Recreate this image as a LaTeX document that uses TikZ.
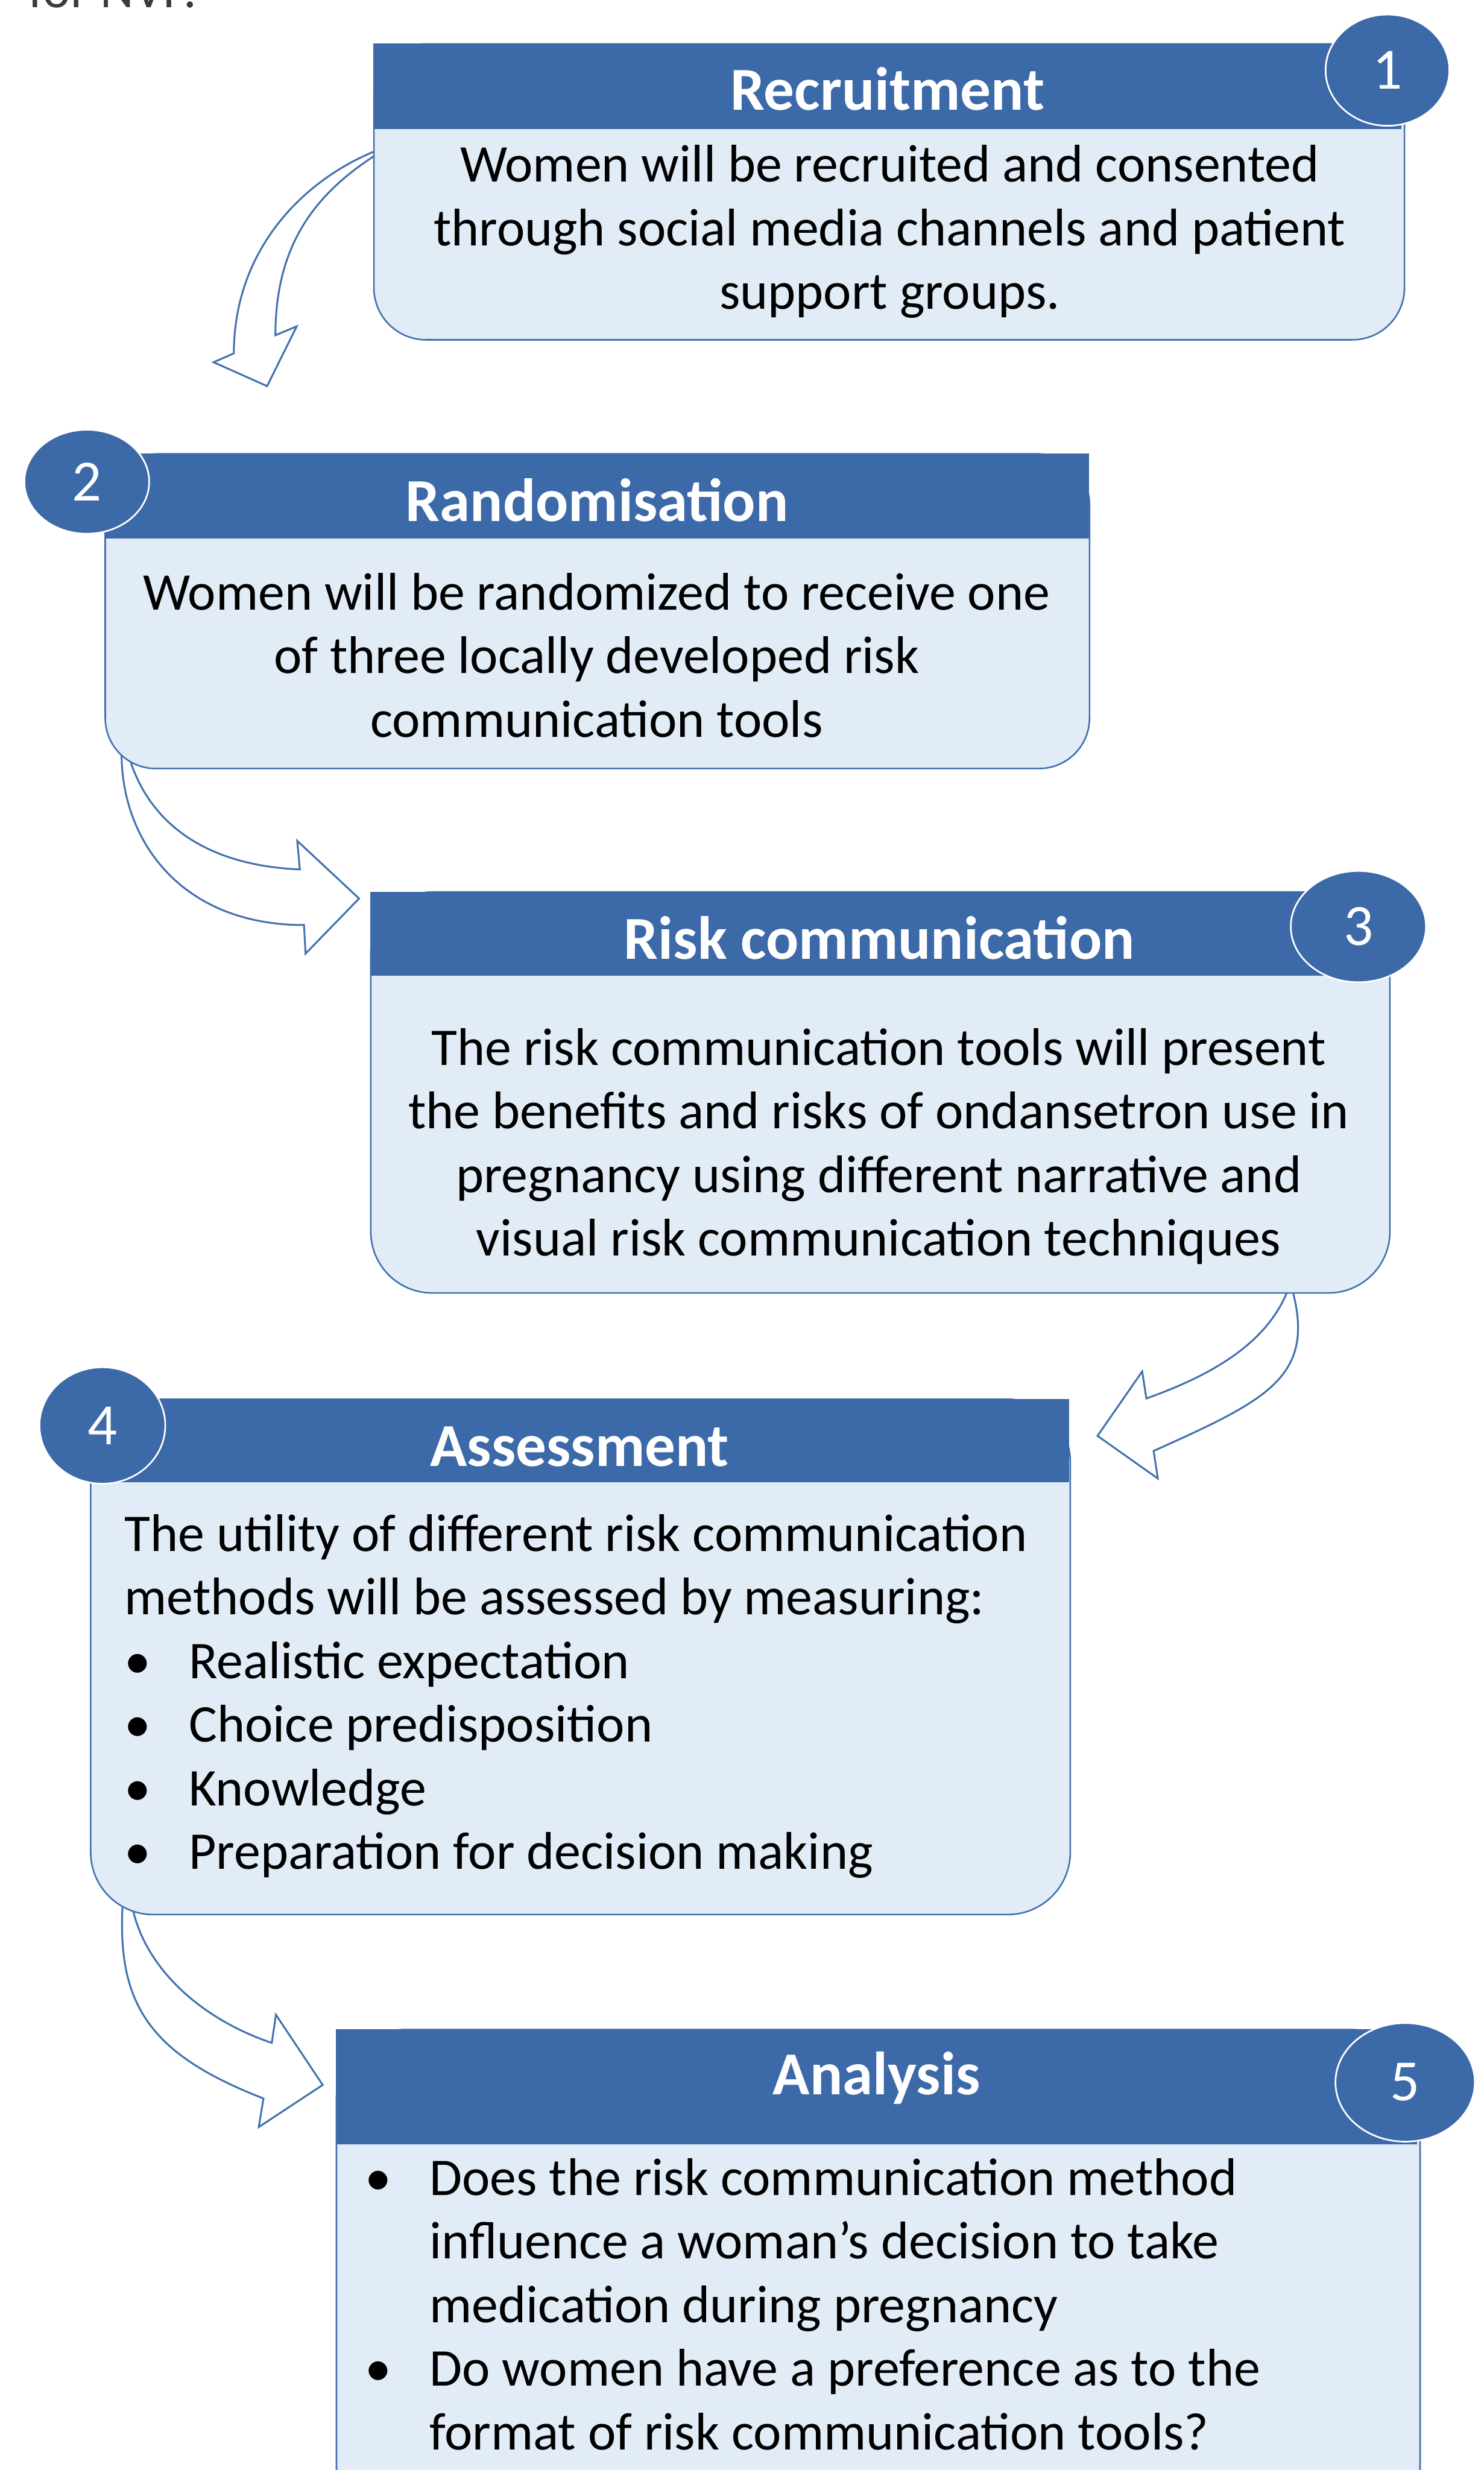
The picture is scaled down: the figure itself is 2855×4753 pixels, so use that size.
\documentclass[tikz,border=0pt]{standalone}
\usepackage{fontspec}
\setmainfont{Carlito}
\usetikzlibrary{shapes.geometric}

\definecolor{headblue}{RGB}{60,105,167}
\definecolor{paleblue}{RGB}{226,236,247}
\definecolor{edgeblue}{RGB}{66,113,176}
\definecolor{textgray}{RGB}{58,58,58}

\newcommand{\bitem}{\makebox[1.24cm][l]{\textbullet}\ignorespaces}
\newcommand{\bcont}{\hspace*{1.24cm}\ignorespaces}

\tikzset{
  stepbody/.style={draw=edgeblue, line width=0.85pt, fill=paleblue, anchor=north west, inner sep=0pt},
  stephead/.style={fill=headblue, anchor=north west, inner sep=0pt},
  steptitle/.style={text=white, inner sep=0pt, font=\fontsize{33.4}{40}\selectfont\bfseries},
  steptext/.style={inner sep=0pt, font=\fontsize{29}{34.8}\selectfont},
  stepnum/.style={ellipse, fill=headblue, draw=white, line width=0.9pt, inner sep=0pt, text=white, font=\fontsize{32}{38}\selectfont},
  flowarrow/.style={draw=edgeblue, line width=1pt, fill=white, line join=miter},
}

\begin{document}
\begin{tikzpicture}[x=0.01cm, y=-0.01cm]
\useasboundingbox (0,0) rectangle (2855,4753);
\clip (0,0) rectangle (2855,4753);

% last words of the sentence above
\node[anchor=base west, inner sep=0pt, text=textgray, font=\fontsize{28.4}{34.4}\selectfont] (tail) at (54,15) {for NVP.};

% curved block arrows, drawn first so the boxes hide their tails
\draw[flowarrow] (734,286) .. controls (585,342) and (450,480) .. (450,680) -- (411,697) -- (514,743) -- (571,628) -- (530,645) .. controls (530,465) and (612,367) .. (733,292) -- cycle;
\draw[flowarrow] (233,1440) -- (234,1455) .. controls (236,1620) and (350,1780) .. (585,1780) -- (588,1835) -- (691,1729) -- (572,1618) -- (577,1673) .. controls (390,1665) and (290,1580) .. (252,1468) -- (247,1454) -- cycle;
\draw[flowarrow] (2486,2472) -- (2488,2486) .. controls (2530,2650) and (2438,2694) .. (2220,2792) -- (2228,2845) -- (2112,2763) -- (2198,2639) -- (2206,2691) .. controls (2347,2641) and (2439,2578) .. (2477,2486) -- (2483,2472) -- cycle;
\draw[flowarrow] (239,3634) -- (237,3648) .. controls (222,3850) and (280,3950) .. (507,4038) -- (498,4093) -- (621,4012) -- (531,3877) -- (523,3931) .. controls (380,3883) and (272,3779) .. (253,3660) -- (251,3646) -- cycle;

% step 1
\node[stepbody, rounded corners=1cm, minimum width=19.82cm, minimum height=5.69cm] (recbody) at (718,83) {};
\node[stephead, minimum width=19.77cm, minimum height=1.64cm] (rechead) at (718,83) {};
\node[steptitle, anchor=base] (rectitle) at (rechead.center |- 0,212) {Recruitment};
\node[steptext, align=center] (rectext) at (1712,446) {Women will be recruited and consented\\
  through social media channels and patient\\
  support groups.};
\node[stepnum, minimum width=2.38cm, minimum height=2.14cm] (recnum) at (2670,135) {1};

% step 2
\node[stepbody, rounded corners=0.97cm, minimum width=18.93cm, minimum height=6.05cm] (randbody) at (201,872) {};
\node[stephead, minimum width=18.93cm, minimum height=1.63cm] (randhead) at (201,872) {};
\node[steptitle, anchor=base] (randtitle) at (randhead.center |- 0,1003) {Randomisation};
\node[steptext, align=center] (randtext) at (1148,1261) {Women will be randomized to receive one\\
  of three locally developed risk\\
  communication tools};
\node[stepnum, minimum width=2.4cm, minimum height=2cm] (randnum) at (167,927) {2};

% step 3
\node[stepbody, rounded corners=1.18cm, minimum width=19.6cm, minimum height=7.71cm] (riskbody) at (712,1715) {};
\node[stephead, minimum width=19.58cm, minimum height=1.62cm] (riskhead) at (712,1715) {};
\node[steptitle, anchor=base] (risktitle) at (riskhead.center |- 0,1846) {Risk communication};
\node[steptext, align=center] (risktext) at (1691,2206) {The risk communication tools will present\\
  the benefits and risks of ondansetron use in\\
  pregnancy using different narrative and\\
  visual risk communication techniques};
\node[stepnum, minimum width=2.6cm, minimum height=2.14cm] (risknum) at (2614,1783) {3};

% step 4
\node[stepbody, rounded corners=1.2cm, minimum width=18.84cm, minimum height=9.91cm] (assbody) at (173,2691) {};
\node[stephead, minimum width=18.82cm, minimum height=1.61cm] (asshead) at (173,2691) {};
\node[steptitle, anchor=base] (asstitle) at (asshead.center |- 0,2822) {Assessment};
\node[steptext, align=left, anchor=west] (asstext) at (239,3264) {The utility of different risk communication\\
  methods will be assessed by measuring:\\
  \bitem Realistic expectation\\
  \bitem Choice predisposition\\
  \bitem Knowledge\\
  \bitem Preparation for decision making};
\node[stepnum, minimum width=2.42cm, minimum height=2.24cm] (assnum) at (197,2743) {4};

% step 5
\node[stepbody, rounded corners=1.3cm, minimum width=20.84cm, minimum height=10cm] (anabody) at (646,3904) {};
\node[stephead, minimum width=20.79cm, minimum height=2.21cm] (anahead) at (646,3904) {};
\node[steptitle, anchor=base] (anatitle) at (anahead.center |- 0,4031) {Analysis};
\node[steptext, align=left, anchor=west] (anatext) at (702,4434) {\bitem Does the risk communication method\\
  \bcont influence a woman’s decision to take\\
  \bcont medication during pregnancy\\
  \bitem Do women have a preference as to the\\
  \bcont format of risk communication tools?};
\node[stepnum, minimum width=2.68cm, minimum height=2.28cm] (ananum) at (2704,4007) {5};
\end{tikzpicture}
\end{document}
